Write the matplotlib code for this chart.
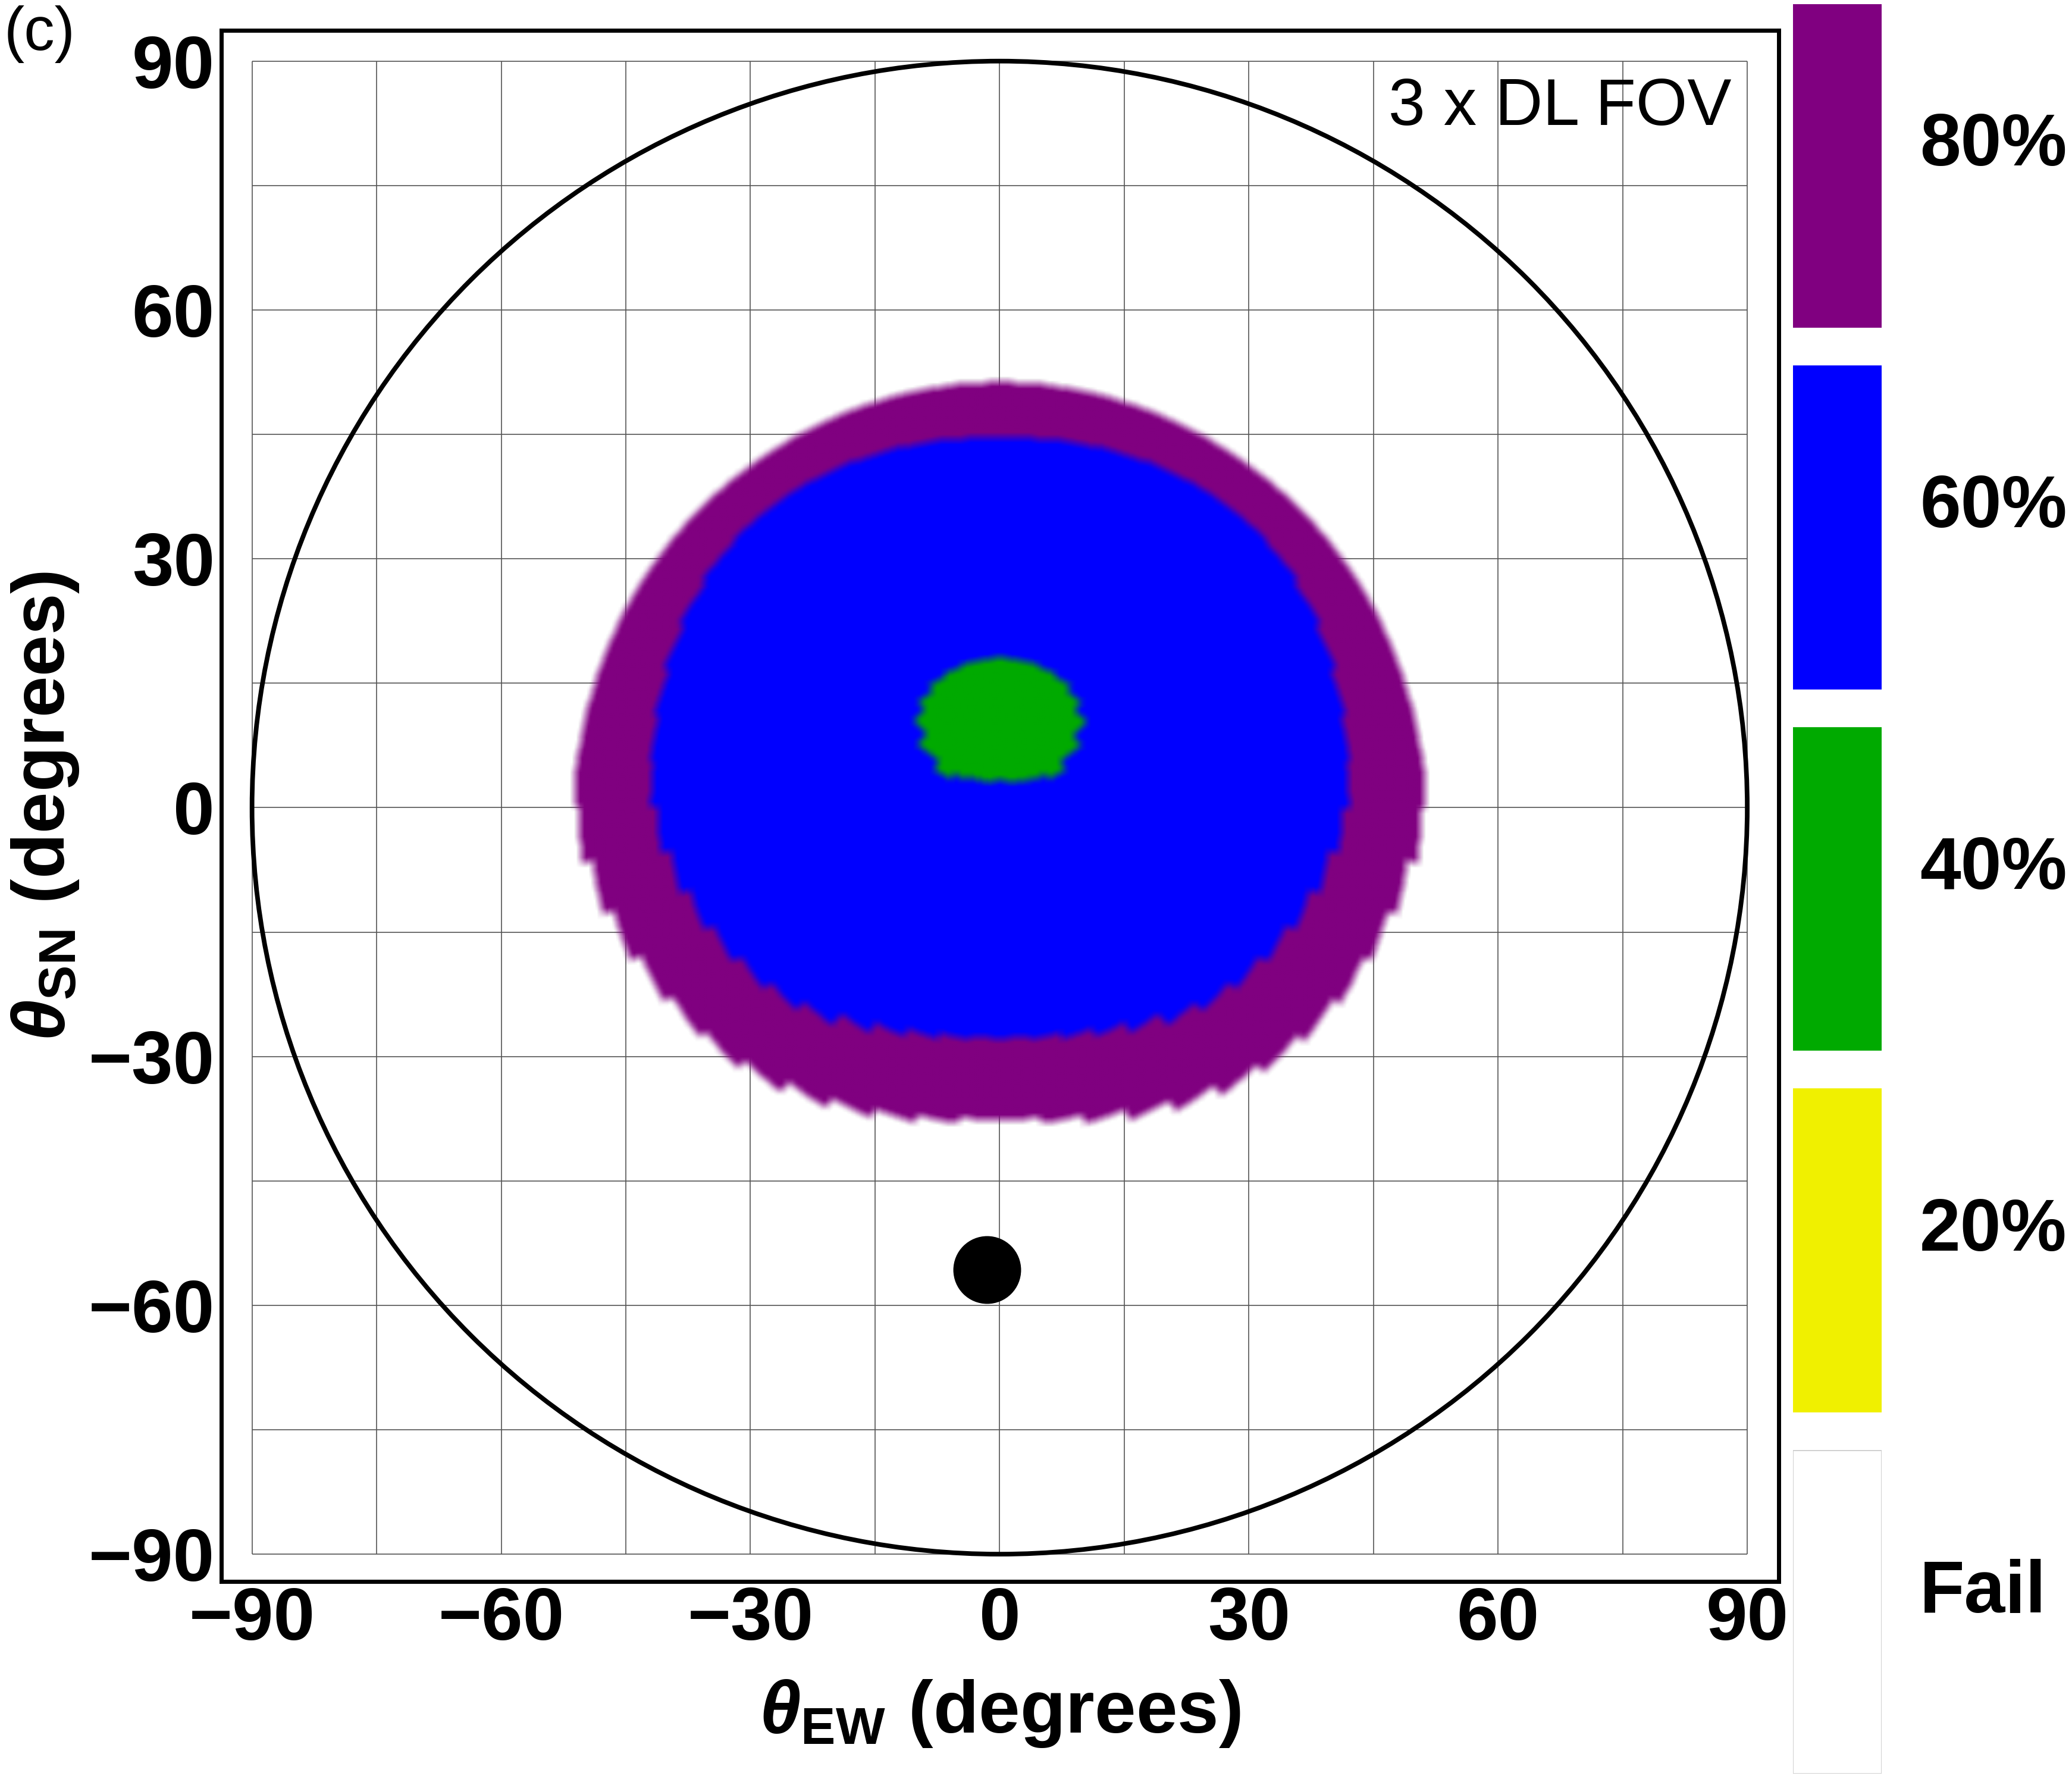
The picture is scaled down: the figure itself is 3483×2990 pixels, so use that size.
"""
Sky map of pointing success for the 3x DL FOV case (panel c).

Coloured zones are read off the figure as boundary radii (degrees from
zenith) per azimuth, measured counter-clockwise from east.
"""
import numpy as np
import matplotlib
matplotlib.use("Agg")
import matplotlib.pyplot as plt
from matplotlib.colors import to_rgb
from matplotlib.patches import Circle

# ── Data ────────────────────────────────────────────────────────────────
AZIMUTH = np.arange(0, 360, 15)          # deg, 0 = east, 90 = north
R_80 = [51.3, 51.0, 51.0, 51.0, 51.0, 51.2, 51.3, 51.2, 51.0, 51.0, 51.0, 51.0,
        51.3, 48.8, 46.0, 44.0, 41.0, 38.7, 37.3, 38.7, 41.5, 44.5, 46.8, 48.8]
R_60 = [41.8, 42.7, 44.2, 45.5, 45.5, 45.0, 44.6, 45.0, 45.5, 45.5, 44.2, 42.7,
        41.8, 39.2, 36.5, 34.0, 30.4, 28.3, 27.6, 28.3, 30.4, 34.0, 36.5, 39.2]

GREEN_AZ    = [30, 45, 60, 75, 90, 105, 120, 135, 150]
GREEN_R_IN  = [7.5, 4.6, 3.5, 3.2, 3.6, 3.2, 3.5, 4.8, 7.5]
GREEN_R_OUT = [7.5, 14.0, 16.8, 17.8, 18.1, 17.8, 16.8, 14.2, 7.5]

SUN      = (-1.5, -55.7)
HORIZON  = 90
TICKS    = [-90, -60, -30, 0, 30, 60, 90]
GRID     = np.arange(-90, 91, 15)

CB_LABELS = ["Fail", "20%", "40%", "60%", "80%"]
CB_COLORS = ["#FFFFFF", "#F0F000", "#00AA00", "#0000FF", "#800080"]

# ── Config ──────────────────────────────────────────────────────────────
STEP = 7.5      # azimuth sampling of the underlying map
RES  = 0.25     # raster resolution in degrees
BLUR = 5        # box blur width (samples), mimics the smoothed edges

plt.rcParams["font.family"] = "Liberation Sans"
plt.rcParams["font.weight"] = "bold"
plt.rcParams["mathtext.fontset"] = "custom"
plt.rcParams["mathtext.it"] = "Liberation Sans:italic:bold"
plt.rcParams["mathtext.rm"] = "Liberation Sans:bold"
plt.rcParams["mathtext.bf"] = "Liberation Sans:bold"


def box_blur(a, k):
    kern = np.ones(k) / k
    for axis in (0, 1):
        a = np.apply_along_axis(np.convolve, axis, a, kern, mode="same")
    return a


def zone_image():
    xs = np.arange(-60, 60 + RES / 2, RES)
    X, Y = np.meshgrid(xs, xs)
    R = np.hypot(X, Y)
    phi = np.degrees(np.arctan2(Y, X)) % 360
    phi_q = (np.floor(phi / STEP) + 0.5) * STEP

    az_ext = np.append(AZIMUTH, 360)
    r80 = np.interp(phi_q, az_ext, np.append(R_80, R_80[0]))
    r60 = np.interp(phi_q, az_ext, np.append(R_60, R_60[0]))
    g_in = np.interp(phi_q, GREEN_AZ, GREEN_R_IN)
    g_out = np.interp(phi_q, GREEN_AZ, GREEN_R_OUT)

    in80 = R <= r80
    in60 = R <= r60
    in40 = (phi_q >= GREEN_AZ[0]) & (phi_q <= GREEN_AZ[-1]) & (R >= g_in) & (R <= g_out)

    rgb = np.zeros(R.shape + (3,))
    for m, c in ((in80, CB_COLORS[4]), (in60, CB_COLORS[3]), (in40, CB_COLORS[2])):
        rgb[m] = to_rgb(c)
    alpha = in80.astype(float)

    a_b = box_blur(alpha, BLUR)
    rgba = np.zeros(R.shape + (4,))
    for ch in range(3):
        rgba[..., ch] = box_blur(rgb[..., ch] * alpha, BLUR) / np.maximum(a_b, 1e-6)
    rgba[..., 3] = a_b
    rgba = np.clip(rgba, 0, 1)
    ext = (xs[0] - RES / 2, xs[-1] + RES / 2, xs[0] - RES / 2, xs[-1] + RES / 2)
    return rgba, ext


def main():
    fig = plt.figure(figsize=(3483 / 200, 2990 / 200), dpi=200)
    ax = fig.add_axes([0.1068, 0.111, 0.7517, 0.8719])

    # grid only inside the +-90 box
    ax.vlines(GRID, -90, 90, colors="#555555", lw=0.6, zorder=1)
    ax.hlines(GRID, -90, 90, colors="#555555", lw=0.6, zorder=1)

    rgba, ext = zone_image()
    ax.imshow(rgba, extent=ext, origin="lower", interpolation="bilinear", zorder=2)

    ax.add_patch(Circle((0, 0), HORIZON, fill=False, lw=2.8, ec="black", zorder=3))
    ax.plot(SUN[0], SUN[1], "o", ms=40, color="black", zorder=4)

    ax.set_xlim(-93.7, 93.8)
    ax.set_ylim(-93.3, 93.7)
    ax.set_aspect("auto")
    ax.set_xticks(TICKS)
    ax.set_yticks(TICKS)
    ax.tick_params(length=0, labelsize=45)
    ax.tick_params(axis="x", pad=3)
    ax.tick_params(axis="y", pad=4)
    for s in ax.spines.values():
        s.set_linewidth(2.5)

    ax.set_xlabel(r"$\theta_{\mathrm{EW}}\ \mathbf{(degrees)}$", fontsize=45)
    ax.set_ylabel(r"$\theta_{\mathrm{SN}}\ \mathbf{(degrees)}$", fontsize=45)
    ax.xaxis.set_label_coords(0.5, -0.062)
    ax.yaxis.set_label_coords(-0.09, 0.5)

    ax.text(88.1, 82.3, "3 x DL FOV", ha="right", va="baseline",
            fontsize=40, fontweight="normal", zorder=5)
    fig.text(0.002, 0.997, "(c)", ha="left", va="top", fontsize=37, fontweight="normal")

    # colour key
    cax = fig.add_axes([3014 / 3483, 1 - 2981 / 2990, 149 / 3483, 2974 / 2990])
    h = 0.893
    pos = np.arange(len(CB_LABELS))
    edges = ["#C8C8C8" if c == "#FFFFFF" else c for c in CB_COLORS]
    cax.bar(np.zeros(len(pos)), h, bottom=pos, width=1, color=CB_COLORS,
            edgecolor=edges, linewidth=0.6)
    for p, lbl in zip(pos, CB_LABELS):
        cax.text(0.93, p + h / 2, lbl, ha="left", va="baseline", fontsize=44.5,
                 clip_on=False)
    cax.set_xlim(-0.5, 0.5)
    cax.set_ylim(0, len(pos) - 1 + h)
    cax.axis("off")

    fig.savefig("out.png", dpi=200)
    plt.close(fig)


if __name__ == "__main__":
    main()
